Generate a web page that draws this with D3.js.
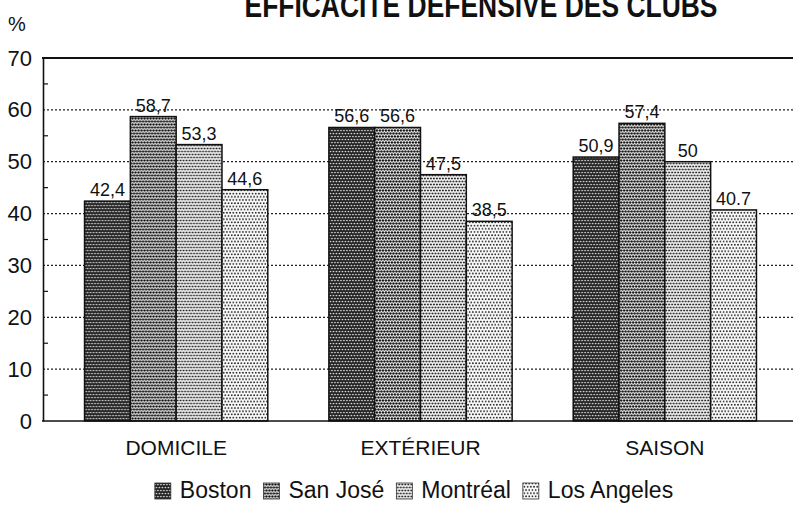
<!DOCTYPE html>
<html lang="fr">
<head>
  <meta charset="UTF-8">
  <title>Efficacité défensive des clubs</title>
  <script src="https://d3js.org/d3.v7.min.js"></script>
  <style>
    body { margin: 0; background: #fff; }
    svg { display: block; font-family: 'Liberation Sans', Arial, sans-serif; }
    .grid line { stroke: #222; stroke-width: 1.2; stroke-dasharray: 2,2; }
    .ylab { font-size: 22px; fill: #111; }
    .cat { font-size: 21px; fill: #111; }
    .val { font-size: 18px; fill: #111; }
    .leg { font-size: 23px; fill: #111; }
  </style>
</head>
<body>
  <svg width="793" height="506"></svg>

  <script>
    const categories = ['DOMICILE', 'EXTÉRIEUR', 'SAISON'];
    const series = ['Boston', 'San José', 'Montréal', 'Los Angeles'];
    const boston = [42.4, 56.6, 50.9];
    const sanJose = [58.7, 56.6, 57.4];
    const montreal = [53.3, 47.5, 50];
    const losAngeles = [44.6, 38.5, 40.7];
    const valueLabels = [
      ['42,4', '56,6', '50,9'],
      ['58,7', '56,6', '57,4'],
      ['53,3', '47,5', '50'],
      ['44,6', '38,5', '40.7']
    ];
    const yTicks = [0, 10, 20, 30, 40, 50, 60, 70];

    const values = [boston, sanJose, montreal, losAngeles];
    const svg = d3.select('svg');
    const W = 793;

    // dot patterns, darkest for Boston
    const defs = svg.append('defs');
    const pats = [
      { bg: '#202020', dot: '#e8e8e8', r: 0.85, s: 3 },
      { bg: '#ffffff', dot: '#111', r: 1.2, s: 3 },
      { bg: '#ffffff', dot: '#222', r: 1.05, s: 3 },
      { bg: '#ffffff', dot: '#222', r: 0.95, s: 3.2 }
    ];
    pats.forEach((p, i) => {
      const pt = defs.append('pattern')
        .attr('id', 'p' + i)
        .attr('patternUnits', 'userSpaceOnUse')
        .attr('width', p.s).attr('height', p.s * 2);
      pt.append('rect').attr('width', p.s).attr('height', p.s * 2).attr('fill', p.bg);
      pt.append('circle').attr('cx', p.s / 2).attr('cy', p.s / 2).attr('r', p.r).attr('fill', p.dot);
      pt.append('circle').attr('cx', 0).attr('cy', p.s * 1.5).attr('r', p.r).attr('fill', p.dot);
      pt.append('circle').attr('cx', p.s).attr('cy', p.s * 1.5).attr('r', p.r).attr('fill', p.dot);
    });

    const y = d3.scaleLinear().domain([0, 70]).range([421, 58]);
    const x0 = d3.scaleBand().domain(categories).range([43, 798])
      .paddingInner(0.25).paddingOuter(0.17);
    const x1 = d3.scaleBand().domain(series).range([0, x0.bandwidth()]);

    // title (top cut off like the scan)
    svg.append('text')
      .attr('x', 481).attr('y', 17)
      .attr('text-anchor', 'middle')
      .attr('font-size', 34).attr('font-weight', 'bold')
      .attr('textLength', 473).attr('lengthAdjust', 'spacingAndGlyphs')
      .attr('fill', '#111')
      .text('EFFICACITÉ DÉFENSIVE DES CLUBS');

    svg.append('text').attr('x', 8).attr('y', 31)
      .attr('font-size', 20).attr('fill', '#111').text('%');

    // dotted grid
    svg.append('g').attr('class', 'grid')
      .selectAll('line')
      .data(yTicks.filter(d => d > 0 && d < 70))
      .join('line')
      .attr('x1', 43).attr('x2', W)
      .attr('y1', d => y(d)).attr('y2', d => y(d));

    // bars
    const groups = svg.append('g').selectAll('g')
      .data(categories)
      .join('g')
      .attr('transform', d => `translate(${x0(d)},0)`);

    groups.selectAll('rect')
      .data((c, ci) => series.map((s, si) => ({ s, si, v: values[si][ci] })))
      .join('rect')
      .attr('x', d => x1(d.s))
      .attr('width', x1.bandwidth())
      .attr('y', d => y(d.v))
      .attr('height', d => y(0) - y(d.v))
      .attr('fill', d => `url(#p${d.si})`)
      .attr('stroke', '#111')
      .attr('stroke-width', 1.5);

    groups.selectAll('text')
      .data((c, ci) => series.map((s, si) => ({ s, v: values[si][ci], lab: valueLabels[si][ci] })))
      .join('text')
      .attr('class', 'val')
      .attr('x', d => x1(d.s) + x1.bandwidth() / 2)
      .attr('y', d => y(d.v) - 5)
      .attr('text-anchor', 'middle')
      .text(d => d.lab);

    // frame: left axis, top and bottom lines
    const yAxis = d3.axisLeft(y).tickValues(yTicks).tickSize(0).tickPadding(11)
      .tickFormat(d3.format('d'));
    const ya = svg.append('g').attr('transform', 'translate(43,0)').call(yAxis)
      .attr('font-family', null).attr('font-size', null);
    ya.select('.domain').attr('stroke', '#111').attr('stroke-width', 1.6);
    ya.selectAll('text').attr('class', 'ylab');

    svg.append('g').selectAll('line')
      .data(d3.range(5, 70, 10))
      .join('line')
      .attr('x1', 43).attr('x2', 48)
      .attr('y1', d => y(d)).attr('y2', d => y(d))
      .attr('stroke', '#111').attr('stroke-width', 1.2);

    svg.append('line').attr('x1', 42).attr('x2', W)
      .attr('y1', y(70)).attr('y2', y(70))
      .attr('stroke', '#111').attr('stroke-width', 2);
    svg.append('line').attr('x1', 42).attr('x2', W)
      .attr('y1', y(0)).attr('y2', y(0))
      .attr('stroke', '#111').attr('stroke-width', 1.6);

    // category labels
    svg.append('g').selectAll('text')
      .data(categories)
      .join('text')
      .attr('class', 'cat')
      .attr('x', d => x0(d) + x0.bandwidth() / 2)
      .attr('y', 455)
      .attr('text-anchor', 'middle')
      .text(d => d);

    // legend
    const leg = svg.append('g');
    let lx = 0;
    series.forEach((s, i) => {
      const g = leg.append('g').attr('transform', `translate(${lx},0)`);
      g.append('rect').attr('x', 0).attr('y', -15).attr('width', 16).attr('height', 16)
        .attr('fill', `url(#p${i})`).attr('stroke', '#333').attr('stroke-width', 0.8);
      const t = g.append('text').attr('class', 'leg').attr('x', 25).attr('y', 0).text(s);
      lx += 25 + t.node().getComputedTextLength() + 12;
    });
    const legW = lx - 12;
    leg.attr('transform', `translate(${414 - legW / 2},498)`);
  </script>
</body>
</html>
